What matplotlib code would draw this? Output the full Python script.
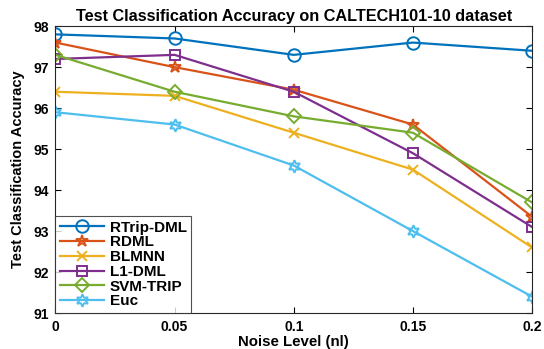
import matplotlib
matplotlib.use("Agg")
import matplotlib.pyplot as plt

plt.rcParams['font.family'] = ['Liberation Sans', 'DejaVu Sans']
plt.rcParams['font.weight'] = 'bold'

noise = [0, 0.05, 0.1, 0.15, 0.2]
series_names = ['RTrip-DML', 'RDML', 'BLMNN', 'L1-DML', 'SVM-TRIP', 'Euc']
rtrip = [97.8, 97.7, 97.3, 97.6, 97.4]
rdml = [97.6, 97.0, 96.45, 95.6, 93.35]
blmnn = [96.4, 96.3, 95.4, 94.5, 92.6]
l1dml = [97.2, 97.3, 96.4, 94.9, 93.1]
svmtrip = [97.3, 96.4, 95.8, 95.4, 93.7]
euc = [95.9, 95.6, 94.6, 93.0, 91.4]
xticklabels = ['0', '0.05', '0.1', '0.15', '0.2']
yticks = [91, 92, 93, 94, 95, 96, 97, 98]

colors = ['#0072BD', '#D95319', '#EDB120', '#7E2F8E', '#77AC30', '#4DBEEE']
markers = ['o', '*', 'x', 's', 'D', (6, 1, 0)]
msizes = [9, 9, 7, 7, 7.5, 9]

fig = plt.figure(figsize=(5.44, 3.49), dpi=100)
ax = fig.add_axes([0.102, 0.103, 0.876, 0.822])
for ys, name, c, m, ms in zip([rtrip, rdml, blmnn, l1dml, svmtrip, euc], series_names, colors, markers, msizes):
    ax.plot(noise, ys, color=c, marker=m, markersize=ms, markerfacecolor='none',
            markeredgecolor=c, markeredgewidth=1.4, linewidth=1.6, label=name)

ax.set_xlim(0, 0.2)
ax.set_ylim(91, 98)
ax.set_xticks(noise)
ax.set_xticklabels(xticklabels)
ax.set_yticks(yticks)
ax.tick_params(direction='in', top=True, right=True, labelsize=10, length=4, width=0.8, pad=5)
for lab in ax.get_xticklabels() + ax.get_yticklabels():
    lab.set_fontweight('bold')
for s in ax.spines.values():
    s.set_color('#262626')
ax.set_xlabel('Noise Level (nl)', fontsize=10.8, fontweight='bold', labelpad=0.5)
ax.set_ylabel('Test Classification Accuracy', fontsize=10.5, fontweight='bold', labelpad=6)
ax.set_title('Test Classification Accuracy on CALTECH101-10 dataset', fontsize=11.7, fontweight='bold', pad=4)
leg = ax.legend(loc='lower left', borderaxespad=0, fontsize=11, frameon=True, fancybox=False,
                edgecolor='#262626', handlelength=2.9, borderpad=0.3, labelspacing=0.05,
                handletextpad=0.35)
leg.get_frame().set_linewidth(0.8)
for t in leg.get_texts():
    t.set_fontweight('bold')
fig.savefig('out.png', dpi=100)
